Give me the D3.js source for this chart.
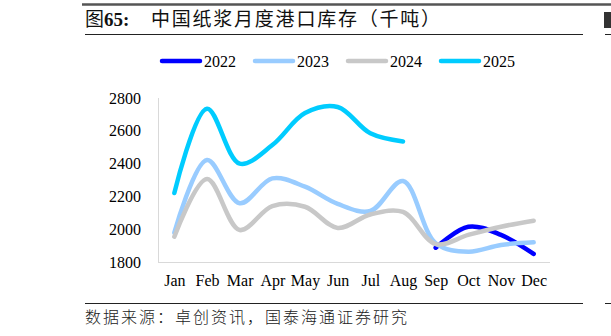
<!DOCTYPE html>
<html><head><meta charset="utf-8">
<script src="https://cdn.jsdelivr.net/npm/d3@7"></script>
<style>html,body{margin:0;padding:0;background:#fff;}svg{display:block;}</style>
</head><body>
<svg id="c" width="611" height="336"></svg>
<script>
const months = ["Jan","Feb","Mar","Apr","May","Jun","Jul","Aug","Sep","Oct","Nov","Dec"];
const yTicks = [1800, 2000, 2200, 2400, 2600, 2800];
const s2022 = [null, null, null, null, null, null, null, null, 1887, 2015, 1965, 1849];
const s2023 = [1979, 2422, 2158, 2310, 2259, 2154, 2111, 2294, 1914, 1863, 1904, 1920];
const s2024 = [1954, 2306, 1995, 2141, 2137, 2008, 2090, 2105, 1909, 1965, 2015, 2052];
const s2025 = [2221, 2735, 2400, 2513, 2708, 2745, 2585, 2535, null, null, null, null];
const seriesNames = ["2022", "2023", "2024", "2025"];
const seriesColors = ["#0000FF", "#99CCFF", "#C8C8C8", "#00CCFF"];
const seriesData = [s2022, s2023, s2024, s2025];
const titleText = "中国纸浆月度港口库存（千吨）";
const sourceText = "数据来源：卓创资讯，国泰海通证券研究";

const svg = d3.select("#c");
const serif = "'Liberation Serif','Times New Roman',serif";
const cjk = "'Noto Sans CJK SC','Noto Sans CJK JP',sans-serif";

// frame lines
svg.append("line").attr("x1",82).attr("x2",611).attr("y1",4.5).attr("y2",4.5).attr("stroke","#555").attr("stroke-width",2.5);
svg.append("line").attr("x1",85).attr("x2",583).attr("y1",34.5).attr("y2",34.5).attr("stroke","#222").attr("stroke-width",1);
svg.append("line").attr("x1",85).attr("x2",583).attr("y1",303.5).attr("y2",303.5).attr("stroke","#222").attr("stroke-width",1);
// right-side fragments of neighbouring panel
svg.append("rect").attr("x",604).attr("y",12).attr("width",7).attr("height",16).attr("fill","#333");
svg.append("line").attr("x1",605).attr("x2",611).attr("y1",34.5).attr("y2",34.5).attr("stroke","#222");
svg.append("line").attr("x1",605).attr("x2",611).attr("y1",303.5).attr("y2",303.5).attr("stroke","#222");

// title
const t = svg.append("text").attr("x",85).attr("y",26).attr("font-size",19).attr("fill","#111");
t.append("tspan").attr("font-family",cjk).text("图");
t.append("tspan").attr("font-family",serif).attr("font-weight","bold").text("65:");
svg.append("text").attr("x",151).attr("y",26).attr("font-size",19).attr("font-family",cjk).attr("fill","#111")
  .attr("textLength",289).attr("lengthAdjust","spacing").text(titleText);
svg.append("text").attr("x",85).attr("y",323).attr("font-size",16).attr("font-family",cjk).attr("font-weight",300)
  .attr("textLength",322).attr("lengthAdjust","spacing").attr("fill","#222").text(sourceText);

// scales
const x = d3.scalePoint().domain(months).range([158, 550]).padding(0.5);
const y = d3.scaleLinear().domain([1800, 2800]).range([262, 98]);

// axes lines
svg.append("line").attr("x1",158.5).attr("x2",158.5).attr("y1",98).attr("y2",262).attr("stroke","#d9d9d9");
svg.append("line").attr("x1",158).attr("x2",550).attr("y1",262.5).attr("y2",262.5).attr("stroke","#d9d9d9");

const yAxis = svg.append("g").attr("transform","translate(158,0)")
  .call(d3.axisLeft(y).tickValues(yTicks).tickSize(0).tickPadding(17).tickFormat(d3.format("d")));
yAxis.select(".domain").remove();
yAxis.selectAll("text").attr("font-family",serif).attr("font-size",16).attr("fill","#000");

const xAxis = svg.append("g").attr("transform","translate(0,262)")
  .call(d3.axisBottom(x).tickSize(0).tickPadding(13));
xAxis.select(".domain").remove();
xAxis.selectAll("text").attr("font-family",serif).attr("font-size",16).attr("fill","#000");

// lines
const line = d3.line().defined(d => d != null)
  .x((d,i) => x(months[i])).y(d => y(d)).curve(d3.curveCatmullRom.alpha(0.5));
seriesData.forEach((s, k) => {
  svg.append("path").datum(s).attr("d", line).attr("fill","none")
    .attr("stroke", seriesColors[k]).attr("stroke-width",4.5)
    .attr("stroke-linecap","round").attr("stroke-linejoin","round");
});

// legend
const legendX = [160, 253, 346, 439];
seriesNames.forEach((n, k) => {
  const g = svg.append("g").attr("transform", `translate(${legendX[k]},61)`);
  g.append("line").attr("x1",2).attr("x2",40).attr("y1",0).attr("y2",0)
    .attr("stroke",seriesColors[k]).attr("stroke-width",4.5).attr("stroke-linecap","round");
  g.append("text").attr("x",44).attr("y",5.5).attr("font-family",serif).attr("font-size",16).text(n);
});
</script>
</body></html>
